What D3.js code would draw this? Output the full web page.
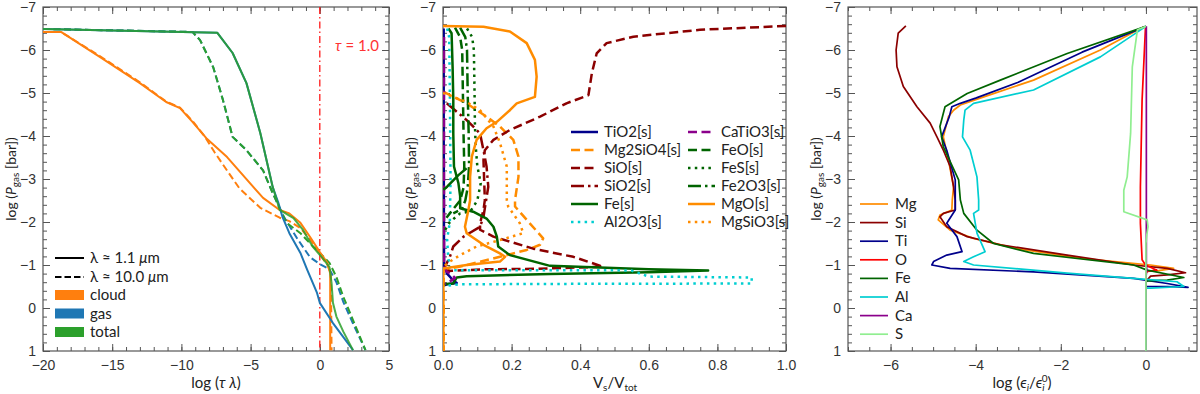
<!DOCTYPE html>
<html>
<head>
<meta charset="utf-8">
<script src="https://cdn.jsdelivr.net/npm/d3@7"></script>
<style>
  html, body { margin: 0; padding: 0; background: #fff; }
  svg { display: block; font-family: Lato, "DejaVu Sans", sans-serif; }
  .tick text { fill: #333; font-size: 14px; }
  .tick line { stroke: #555; }
</style>
</head>
<body>
<div id="chart"></div>
<script>
// ---------- data: left panel, log(tau) vs log(P) ----------
var cloud1 = [[-20,-6.42],[-18.7,-6.42],[-15.9,-5.84],[-13,-5.23],[-11.1,-4.79],[-10.1,-4.65],[-9.2,-4.33],[-8.2,-3.95],[-6.7,-3.51],[-4.1,-2.56],[-2.9,-2.28],[-2.2,-2.2],[-1.4,-1.98],[-0.7,-1.65],[0,-1.3],[0.55,-1.05],[0.75,-0.8],[0.75,0.98]];
var cloud10 = [[-20,-6.42],[-18.7,-6.42],[-15.9,-5.86],[-13,-5.25],[-11.1,-4.8],[-10.1,-4.66],[-9.2,-4.35],[-8.3,-3.98],[-7.6,-3.62],[-6.6,-3.15],[-5.8,-2.78],[-4.3,-2.33],[-2.9,-2.1],[-2.2,-2.02],[-1.4,-1.86],[-0.6,-1.55],[0.1,-1.2],[0.55,-1.0],[0.8,-0.8],[0.85,0.98]];
var gas1 = [[-20,-6.49],[-7.4,-6.4],[-6.3,-5.93],[-5.3,-5.23],[-4.3,-4.07],[-3.4,-2.81],[-3.0,-2.45],[-2.7,-2.12],[-2.2,-1.74],[-1.4,-1.28],[-0.9,-0.88],[-0.2,-0.35],[0,-0.12],[0.95,0.35],[2.4,0.98]];
var gas10 = [[-20,-6.49],[-9.2,-6.42],[-8.65,-6.23],[-7.7,-5.6],[-7,-4.84],[-6.3,-3.98],[-5.3,-3.67],[-4.1,-3.2],[-3.4,-2.67],[-2.6,-2.12],[-1.6,-1.6],[-0.7,-1.18],[0,-1.02],[0.7,-0.9],[1.2,-0.6],[1.7,-0.14],[2.4,0.36],[3.3,0.98]];
var total1 = [[-20,-6.49],[-7.4,-6.4],[-6.3,-5.93],[-5.3,-5.23],[-4.3,-4.07],[-3.4,-2.81],[-3.1,-2.5],[-2.9,-2.28],[-1.9,-2.09],[-1.2,-1.81],[-0.5,-1.42],[0.2,-1.16],[0.7,-0.95],[0.85,-0.58],[0.95,-0.12],[1.2,0.2],[1.7,0.55],[2.4,0.98]];
var total10 = [[-20,-6.49],[-9.2,-6.42],[-8.65,-6.23],[-7.7,-5.6],[-7,-4.84],[-6.3,-3.98],[-5.3,-3.67],[-4.1,-3.2],[-3.4,-2.67],[-2.4,-1.98],[-1.4,-1.74],[-0.7,-1.5],[0,-1.28],[0.7,-1.05],[1.2,-0.72],[1.7,-0.26],[2.4,0.28],[3.3,0.98]];

// ---------- data: middle panel, volume fractions ----------
var tio2 = [[0.002,-6.5],[0.002,-4],[0.003,-1.0],[0.012,-0.8],[0.03,-0.64],[0.04,-0.58],[0.012,-0.55],[0.001,-0.52]];
var mg2sio4 = [[0,-5.03],[0.069,-4.76],[0.127,-4.45],[0.166,-4.22],[0.205,-3.91],[0.22,-3.52],[0.22,-3.05],[0.21,-2.51],[0.21,-2.36],[0.244,-2.05],[0.292,-1.62],[0.283,-1.47],[0.244,-1.35],[0.166,-1.19],[0.069,-1.0],[0.002,-0.88],[0.002,1]];
var sio = [[1.0,-6.56],[0.749,-6.47],[0.555,-6.31],[0.477,-6.16],[0.448,-5.92],[0.434,-5.46],[0.424,-4.95],[0.36,-4.76],[0.283,-4.45],[0.195,-4.14],[0.147,-3.91],[0.122,-3.67],[0.118,-3.44],[0.122,-2.51],[0.118,-2.28],[0.108,-1.97],[0.108,-1.82],[0.147,-1.66],[0.263,-1.38],[0.38,-1.19],[0.467,-0.96],[0.263,-0.91],[0.118,-0.9],[0.01,-0.86]];
var sio2 = [[0.011,-4.76],[0.069,-4.37],[0.108,-4.06],[0.118,-3.67],[0.127,-3.29],[0.132,-2.82],[0.118,-2.12],[0.108,-1.89],[0.06,-1.66],[0.03,-1.43],[0.02,-1.19],[0.005,-0.95]];
var fe = [[0.016,-6.5],[0.025,-6.39],[0.028,-5.61],[0.03,-4.84],[0.03,-4.06],[0.032,-3.29],[0.045,-2.9],[0.05,-2.6],[0.05,-2.32],[0.088,-2.24],[0.127,-2.08],[0.147,-1.89],[0.157,-1.66],[0.161,-1.43],[0.195,-1.23],[0.312,-0.98],[0.6,-0.9],[0.773,-0.87],[0.6,-0.83],[0.312,-0.79],[0.069,-0.74],[0.04,-0.71],[0.03,-0.57],[0.001,-0.55]];
var feBranch = [[0.001,-2.75],[0.012,-2.82],[0.045,-3.09],[0.069,-3.25]];
var al2o3 = [[0.012,-6.5],[0.018,-6.3],[0.02,-5],[0.022,-3],[0.02,-2.0],[0.012,-1.6],[0.015,-1.2],[0.02,-0.95],[0.03,-0.88],[0.5,-0.88],[0.55,-0.87],[0.6,-0.73],[0.9,-0.71],[0.9,-0.57],[0.3,-0.56],[0.05,-0.55],[0.01,-0.52]];
var catio3 = [[0.003,-6.3],[0.003,-1.0],[0.01,-0.85],[0.025,-0.78],[0.035,-0.7],[0.02,-0.62],[0.005,-0.56]];
var feo = [[0.035,-6.52],[0.05,-6.3],[0.056,-6.0],[0.058,-5],[0.06,-4],[0.062,-3.3],[0.06,-2.8],[0.05,-2.5],[0.03,-2.3],[0.01,-2.1]];
var fes = [[0.07,-6.5],[0.085,-6.3],[0.09,-6.0],[0.092,-5],[0.093,-4.3],[0.095,-3.8],[0.1,-3.3],[0.11,-2.9],[0.1,-2.5],[0.08,-2.25],[0.05,-2.2],[0.02,-2.0],[0.005,-1.8]];
var fe2o3 = [[0.05,-6.52],[0.065,-6.3],[0.07,-6.0],[0.072,-5],[0.075,-4],[0.076,-3.3],[0.072,-2.8],[0.065,-2.5],[0.055,-2.3],[0.03,-2.2]];
var mgo = [[0,-6.56],[0.118,-6.54],[0.195,-6.43],[0.244,-6.16],[0.268,-5.77],[0.273,-5.38],[0.268,-4.91],[0.215,-4.76],[0.195,-4.6],[0.157,-4.33],[0.127,-4.18],[0.098,-3.91],[0.084,-3.52],[0.079,-3.05],[0.079,-2.51],[0.074,-2.28],[0.064,-1.89],[0.069,-1.74],[0.118,-1.47],[0.166,-1.27],[0.181,-1.19],[0.166,-1.08],[0.069,-1.0],[0.001,-0.92],[0.001,1]];
var mgsio3 = [[0,-5.0],[0.069,-4.79],[0.108,-4.6],[0.147,-4.22],[0.166,-3.84],[0.186,-3.29],[0.186,-2.51],[0.19,-2.36],[0.224,-1.97],[0.234,-1.74],[0.166,-1.58],[0.098,-1.43],[0.05,-1.23],[0.02,-1.08],[0,-0.95]];

// ---------- data: right panel, element depletion ----------
var elMg = [[-0.05,-6.54],[-1.07,-6.0],[-2.64,-5.3],[-3.81,-4.91],[-4.36,-4.72],[-4.52,-4.6],[-4.64,-4.45],[-4.76,-3.98],[-4.64,-3.44],[-4.52,-2.82],[-4.55,-2.51],[-4.56,-2.28],[-4.84,-2.16],[-4.88,-2.05],[-4.6,-1.81],[-4.05,-1.62],[-3.03,-1.38],[-1.46,-1.15],[0.11,-1.0],[0.65,-0.92],[0.3,-0.87],[0,-0.85],[0,1]];
var elSi = [[-5.64,-6.56],[-5.82,-6.39],[-5.87,-6.0],[-5.85,-5.61],[-5.7,-5.15],[-5.38,-4.68],[-5.07,-4.3],[-4.91,-3.98],[-4.76,-3.67],[-4.6,-3.29],[-4.52,-2.82],[-4.48,-2.51],[-4.48,-2.28],[-4.76,-2.2],[-4.84,-2.12],[-4.68,-1.89],[-4.2,-1.66],[-3.42,-1.47],[-1.85,-1.23],[-0.29,-1.0],[0.5,-0.92],[0.93,-0.82],[0.5,-0.77],[0.11,-0.74],[0.03,-0.65],[0,-0.6],[0,1]];
var elTi = [[0,-6.55],[-1.5,-5.95],[-3.0,-5.25],[-4.0,-4.88],[-4.36,-4.76],[-4.56,-4.68],[-4.62,-4.45],[-4.8,-3.98],[-4.68,-3.67],[-4.48,-2.98],[-4.48,-2.28],[-4.68,-1.97],[-4.44,-1.66],[-4.32,-1.31],[-4.68,-1.23],[-4.99,-1.08],[-5.03,-1.0],[-4.6,-0.92],[-2.64,-0.84],[-0.29,-0.69],[0.5,-0.57],[0.99,-0.48],[0.5,-0.5],[0,-0.5],[0,1]];
var elO = [[-0.01,-6.54],[-0.09,-4.84],[-0.13,-2.82],[-0.13,-1.97],[-0.09,-1.12],[-0.01,-1.0],[0.26,-0.88],[0.03,-0.85],[0,-0.8],[0,1]];
var elFe = [[0,-6.55],[-1.85,-5.92],[-3.42,-5.3],[-4.2,-4.99],[-4.72,-4.68],[-4.76,-4.53],[-4.84,-4.22],[-4.76,-3.75],[-4.4,-2.98],[-4.36,-2.51],[-4.28,-2.2],[-3.97,-1.81],[-3.58,-1.5],[-2.64,-1.27],[-0.29,-1.0],[0.03,-0.88],[0.89,-0.71],[0.5,-0.65],[0.03,-0.63],[0,-0.6],[0,1]];
var elAl = [[0,-6.55],[-1.07,-5.84],[-2.64,-5.07],[-4.05,-4.76],[-4.25,-4.6],[-4.28,-4.37],[-4.31,-3.98],[-4.13,-3.67],[-3.97,-3.05],[-3.93,-2.51],[-3.93,-2.28],[-4.05,-2.2],[-3.97,-1.74],[-3.78,-1.31],[-4.05,-1.19],[-4.28,-1.08],[-4.05,-1.0],[-1.85,-0.81],[-0.29,-0.69],[0.73,-0.61],[0.89,-0.5],[0.11,-0.46],[0,-0.46],[0,1]];
var elCa = [[0.01,-6.55],[0.01,-1.0],[0.02,-0.9],[0.01,-0.8],[0,-0.7],[0,1]];
var elS = [[0,-6.55],[-0.2,-6.47],[-0.32,-5.61],[-0.36,-4.06],[-0.44,-3.05],[-0.52,-2.74],[-0.52,-2.24],[0.03,-2.05],[0.05,-1.89],[0.02,-1.7],[0,-1.5],[0,1]];

var yTicks = [-7, -6, -5, -4, -3, -2, -1, 0, 1];
var tauTicks = [-20, -15, -10, -5, 0, 5];
var vfTicks = [0.0, 0.2, 0.4, 0.6, 0.8, 1.0];
var epsTicks = [-6, -4, -2, 0];

var tauLegend = ['cloud', 'gas', 'total'];
var tauColors = ['#ff7f0e', '#1f77b4', '#2ca02c'];
var speciesNames = ['TiO2[s]', 'Mg2SiO4[s]', 'SiO[s]', 'SiO2[s]', 'Fe[s]', 'Al2O3[s]', 'CaTiO3[s]', 'FeO[s]', 'FeS[s]', 'Fe2O3[s]', 'MgO[s]', 'MgSiO3[s]'];
var elementNames = ['Mg', 'Si', 'Ti', 'O', 'Fe', 'Al', 'Ca', 'S'];
</script>
<script>
var W = 1200, H = 394;
var top0 = 7, bottom0 = 351;
var svg = d3.select('#chart').append('svg').attr('width', W).attr('height', H);

function range(a, b, step) {
    var out = [];
    for (var v = a; v <= b + 1e-9; v += step) out.push(+v.toFixed(4));
    return out;
}

function makePanel(x0, x1, xDomain, xMajor, xMinor, yMinor, fmt) {
    var x = d3.scaleLinear().domain(xDomain).range([x0, x1]);
    var y = d3.scaleLinear().domain([-7, 1]).range([top0, bottom0]);
    var g = svg.append('g');
    var clipId = 'clip' + x0;
    svg.append('clipPath').attr('id', clipId).append('rect')
        .attr('x', x0).attr('y', top0).attr('width', x1 - x0).attr('height', bottom0 - top0);

    var ax = g.append('g');
    function put(axis, tr) {
        var a = ax.append('g').attr('transform', tr).call(axis);
        a.select('.domain').remove();
        return a;
    }
    // majors
    put(d3.axisBottom(x).tickValues(xMajor).tickSize(-7).tickPadding(9).tickFormat(fmt), 'translate(0,' + bottom0 + ')');
    put(d3.axisTop(x).tickValues(xMajor).tickSize(-7).tickFormat(''), 'translate(0,' + top0 + ')');
    put(d3.axisLeft(y).tickValues(yTicks).tickSize(-7).tickPadding(7).tickFormat(d3.format('d')), 'translate(' + x0 + ',0)');
    put(d3.axisRight(y).tickValues(yTicks).tickSize(-7).tickFormat(''), 'translate(' + x1 + ',0)');
    // minors
    put(d3.axisBottom(x).tickValues(xMinor).tickSize(-4).tickFormat(''), 'translate(0,' + bottom0 + ')');
    put(d3.axisTop(x).tickValues(xMinor).tickSize(-4).tickFormat(''), 'translate(0,' + top0 + ')');
    put(d3.axisLeft(y).tickValues(yMinor).tickSize(-4).tickFormat(''), 'translate(' + x0 + ',0)');
    put(d3.axisRight(y).tickValues(yMinor).tickSize(-4).tickFormat(''), 'translate(' + x1 + ',0)');

    g.append('rect').attr('x', x0).attr('y', top0).attr('width', x1 - x0).attr('height', bottom0 - top0)
        .attr('fill', 'none').attr('stroke', '#555').attr('stroke-width', 1.2);

    var plot = svg.append('g').attr('clip-path', 'url(#' + clipId + ')');
    return { x: x, y: y, g: g, plot: plot };
}

function yLabel(xc) {
    var t = svg.append('text').attr('transform', 'translate(' + xc + ',' + ((top0 + bottom0) / 2) + ') rotate(-90)')
        .attr('text-anchor', 'middle').attr('font-size', 14).attr('fill', '#222');
    t.append('tspan').text('log (');
    t.append('tspan').attr('font-style', 'italic').text('P');
    t.append('tspan').attr('font-size', 10).attr('dy', 3).text('gas');
    t.append('tspan').attr('dy', -3).text(' [bar])');
}

function drawLine(p, data, color, width, dash, opacity) {
    var line = d3.line().x(function (d) { return p.x(d[0]); }).y(function (d) { return p.y(d[1]); });
    p.plot.append('path').attr('d', line(data)).attr('fill', 'none')
        .attr('stroke', color).attr('stroke-width', width)
        .attr('stroke-dasharray', dash || null)
        .attr('stroke-opacity', opacity || 1)
        .attr('stroke-linejoin', 'round');
}

var DASH = '7,3.5', DASH_M = '9,4.5', DOT_M = '2.5,4.3', DASHDOT_M = '13,4,2.5,4';

// ---------- left panel ----------
var pL = makePanel(43, 389, [-20, 5], tauTicks, range(-20, 5, 1), range(-7, 1, 0.2), d3.format('d'));
yLabel(16);
svg.append('text').attr('x', 216).attr('y', 388).attr('text-anchor', 'middle').attr('font-size', 15).attr('fill', '#222')
    .html('log (<tspan font-style="italic">τ</tspan> <tspan font-style="italic">λ</tspan>)');

pL.plot.append('line').attr('x1', pL.x(0)).attr('x2', pL.x(0)).attr('y1', top0).attr('y2', bottom0)
    .attr('stroke', '#ff1a1a').attr('stroke-width', 1.3).attr('stroke-dasharray', '7,3,1.5,3');
svg.append('text').attr('x', 357).attr('y', 51).attr('text-anchor', 'middle').attr('font-size', 15).attr('fill', '#ff3333')
    .html('<tspan font-style="italic">τ</tspan> = 1.0');

drawLine(pL, cloud10, tauColors[0], 2, DASH);
drawLine(pL, gas10, tauColors[1], 2, DASH);
drawLine(pL, total10, tauColors[2], 2, DASH);
drawLine(pL, cloud1, tauColors[0], 2);
drawLine(pL, gas1, tauColors[1], 2);
drawLine(pL, total1, tauColors[2], 2, null, 0.85);

var legL = svg.append('g');
[['1.1', null], ['10.0', '6.5,3']].forEach(function (r, i) {
    var yy = 258 + i * 19;
    legL.append('line').attr('x1', 55).attr('x2', 84).attr('y1', yy).attr('y2', yy)
        .attr('stroke', '#000').attr('stroke-width', 2).attr('stroke-dasharray', r[1]);
    legL.append('text').attr('x', 90).attr('y', yy + 5).attr('font-size', 15).attr('fill', '#222')
        .html('λ  ≈  ' + r[0] + ' <tspan font-style="italic">μ</tspan>m');
});
tauLegend.forEach(function (name, i) {
    var yy = 295 + i * 18.5;
    legL.append('rect').attr('x', 55).attr('y', yy - 5).attr('width', 29).attr('height', 10).attr('fill', tauColors[i]);
    legL.append('text').attr('x', 90).attr('y', yy + 5).attr('font-size', 15).attr('fill', '#222').text(name);
});

// ---------- middle panel ----------
var pM = makePanel(443, 786, [0, 1], vfTicks, range(0, 1, 0.05), range(-7, 1, 0.2), d3.format('.1f'));
yLabel(416);
svg.append('text').attr('x', 615).attr('y', 388).attr('text-anchor', 'middle').attr('font-size', 15).attr('fill', '#222')
    .html('V<tspan font-size="10" dy="3">s</tspan><tspan dy="-3">/V</tspan><tspan font-size="10" dy="3">tot</tspan>');

var species = [
    [tio2, '#00008b', null],
    [mg2sio4, '#ff8c00', DASH_M],
    [sio, '#8b0000', DASH_M],
    [sio2, '#8b0000', DASHDOT_M],
    [fe, '#006400', null],
    [al2o3, '#00ced1', DOT_M],
    [catio3, '#8b008b', DASH_M],
    [feo, '#006400', DASH_M],
    [fes, '#006400', DOT_M],
    [fe2o3, '#006400', DASHDOT_M],
    [mgo, '#ff8c00', null],
    [mgsio3, '#ff8c00', DOT_M]
];
species.forEach(function (s) { drawLine(pM, s[0], s[1], 2.5, s[2]); });
drawLine(pM, feBranch, '#006400', 2.5);

var legM = svg.append('g');
species.forEach(function (s, i) {
    var col = i < 6 ? 0 : 1;
    var row = i % 6;
    var lx = col === 0 ? 571 : 688;
    var yy = 132 + row * 18;
    legM.append('line').attr('x1', lx).attr('x2', lx + 27).attr('y1', yy).attr('y2', yy)
        .attr('stroke', s[1]).attr('stroke-width', 2.5).attr('stroke-dasharray', s[2]);
    legM.append('text').attr('x', lx + 33).attr('y', yy + 5).attr('font-size', 15).attr('fill', '#222').text(speciesNames[i]);
});

// ---------- right panel ----------
var pR = makePanel(848, 1197, [-7, 1.2], epsTicks, range(-7, 1, 0.5), range(-7, 1, 0.2), d3.format('d'));
yLabel(821);
svg.append('text').attr('x', 1022).attr('y', 388).attr('text-anchor', 'middle').attr('font-size', 15).attr('fill', '#222')
    .html('log (<tspan font-style="italic">ϵ</tspan><tspan font-size="10" dy="3" font-style="italic">i</tspan><tspan dy="-3">/</tspan><tspan font-style="italic">ϵ</tspan><tspan font-size="10" dy="3" font-style="italic">i</tspan><tspan font-size="10" dx="-3" dy="-9">0</tspan><tspan dy="6">)</tspan>');

var elements = [
    [elMg, '#ff8c00'], [elSi, '#8b0000'], [elTi, '#00008b'], [elO, '#ff0000'],
    [elFe, '#006400'], [elAl, '#00ced1'], [elCa, '#8b008b'], [elS, '#90ee90']
];
elements.forEach(function (e) { drawLine(pR, e[0], e[1], 1.7); });

var legR = svg.append('g');
elements.forEach(function (e, i) {
    var yy = 204 + i * 18.6;
    legR.append('line').attr('x1', 860).attr('x2', 888).attr('y1', yy).attr('y2', yy)
        .attr('stroke', e[1]).attr('stroke-width', 1.7);
    legR.append('text').attr('x', 895).attr('y', yy + 5).attr('font-size', 15).attr('fill', '#222').text(elementNames[i]);
});
</script>
</body>
</html>
